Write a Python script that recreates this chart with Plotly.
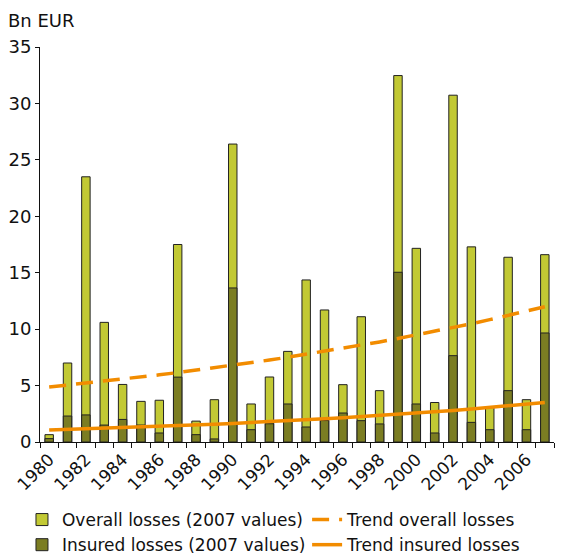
import plotly.graph_objects as go

years = list(range(1980, 2008))
overall = [0.65, 7.0, 23.5, 10.6, 5.1, 3.6, 3.7, 17.5, 1.85, 3.75,
           26.4, 3.37, 5.76, 8.03, 14.36, 11.7, 5.08, 11.1, 4.55, 32.47,
           17.16, 3.5, 30.73, 17.29, 3.1, 16.37, 3.75, 16.6]
insured = [0.3, 2.3, 2.4, 1.5, 2.0, 1.5, 0.8, 5.75, 0.65, 0.27,
           13.65, 1.09, 1.62, 3.37, 1.33, 1.9, 2.57, 1.89, 1.6, 15.04,
           3.37, 0.8, 7.65, 1.74, 1.09, 4.55, 1.09, 9.66]
trend_overall = [4.87, 5.04, 5.21, 5.38, 5.56, 5.75, 5.95, 6.15, 6.36, 6.57,
                 6.80, 7.03, 7.26, 7.51, 7.77, 8.03, 8.30, 8.58, 8.87, 9.17,
                 9.48, 9.81, 10.14, 10.48, 10.84, 11.21, 11.59, 11.98]
trend_insured = [1.06, 1.11, 1.16, 1.21, 1.26, 1.32, 1.38, 1.44, 1.51, 1.58,
                 1.65, 1.72, 1.80, 1.88, 1.97, 2.06, 2.15, 2.25, 2.35, 2.45,
                 2.56, 2.68, 2.80, 2.93, 3.06, 3.20, 3.35, 3.50]
tick_labels = [str(y) for y in range(1980, 2007, 2)]

FONT = "DejaVu Sans"
C_OVERALL = "#c2c934"
C_INSURED = "#7b7d22"
C_TREND = "#f28c00"

fig = go.Figure()
fig.add_trace(go.Bar(x=years, y=overall, name="Overall losses (2007 values)",
                     marker=dict(color=C_OVERALL, line=dict(color="#222", width=1)),
                     width=0.46, legend="legend"))
fig.add_trace(go.Bar(x=years, y=insured, name="Insured losses (2007 values)",
                     marker=dict(color=C_INSURED, line=dict(color="#222", width=1)),
                     width=0.46, legend="legend"))
fig.add_trace(go.Scatter(x=years, y=trend_overall, name="Trend overall losses",
                         mode="lines", line=dict(color=C_TREND, width=3.5, dash="17px,10px"),
                         legend="legend2"))
fig.add_trace(go.Scatter(x=years, y=trend_insured, name="Trend insured losses",
                         mode="lines", line=dict(color=C_TREND, width=3.5),
                         legend="legend2"))

legend_common = dict(orientation="h", xref="container", xanchor="left",
                     yref="container", y=0.0985, yanchor="top",
                     entrywidthmode="fraction", entrywidth=0.6,
                     tracegroupgap=0, font=dict(size=17), itemwidth=30,
                     traceorder="normal", bgcolor="rgba(0,0,0,0)")

fig.update_layout(
    width=573, height=548,
    margin=dict(l=32, r=27, t=39, b=114),
    barmode="overlay",
    plot_bgcolor="white", paper_bgcolor="white",
    font=dict(family=FONT, size=17, color="#111"),
    showlegend=True,
    legend=dict(x=0.0244, **legend_common),
    legend2=dict(x=0.522, **legend_common),
    annotations=[dict(text="Bn EUR", xref="paper", yref="paper", x=-0.067, y=1.068,
                      xanchor="left", yanchor="middle", showarrow=False,
                      font=dict(size=18))],
)
fig.update_xaxes(range=[1979.5, 2007.5], tickmode="array", automargin=False,
                 tickvals=list(range(1980, 2007, 2)), ticktext=tick_labels,
                 tickangle=-45, ticks="", showgrid=False, zeroline=False,
                 showline=True, linecolor="#111", linewidth=1,
                 tickfont=dict(size=17),
                 minor=dict(tickmode="array", tickvals=[y - 0.5 for y in range(1980, 2009)],
                            ticks="outside", ticklen=5, tickcolor="#111", showgrid=False))
fig.update_yaxes(range=[0, 35], tickvals=[0, 5, 10, 15, 20, 25, 30, 35], automargin=False,
                 ticks="outside", ticklen=4, tickcolor="#111", showgrid=False,
                 zeroline=False, showline=True, linecolor="#111", linewidth=1,
                 tickfont=dict(size=18))

fig.write_html("out.html")
